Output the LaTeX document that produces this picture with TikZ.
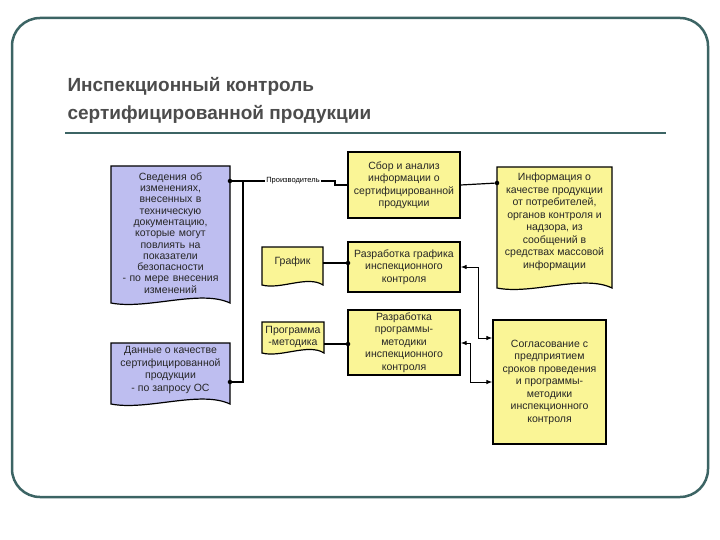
\documentclass[tikz,border=0pt]{standalone}
\usepackage{fontspec}
\setmainfont{Liberation Sans}
\usetikzlibrary{arrows.meta,calc}
\definecolor{frm}{RGB}{60,100,100}
\definecolor{yel}{RGB}{250,245,150}
\definecolor{blu}{RGB}{190,190,240}
\tikzset{
 box/.style={draw,line width=1.2pt,fill=yel,align=center,font=\fontsize{10.5}{12.5}\selectfont,inner sep=1pt,text=black!85},
 doctext/.style={align=center,font=\fontsize{10.5}{12.5}\selectfont,inner sep=1pt,text=black!85},
 con/.style={line width=1.2pt},
 dot/.style={circle,fill,inner sep=1.6pt},
 arr/.style={line width=1pt,-{Latex[length=6pt]}}
}
\newcommand{\wdoc}[6]{% x1 y1 x2 y2 fill amp
 \draw[line width=1.2pt,fill=#5] (#1,#2) -- (#3,#2) -- (#3,#4)
  .. controls ({#3-0.25*(#3-#1)},{#4-2*#6}) and ({#1+0.3*(#3-#1)},{#4+#6}) .. (#1,#4) -- cycle;}
\begin{document}
\begin{tikzpicture}[x=1pt,y=-1pt]
\useasboundingbox (0,0) rectangle (720,540);
\draw[frm,line width=2.5pt,rounded corners=28pt] (12,18) rectangle (708,497);
\node[anchor=west,font=\bfseries\fontsize{19}{28}\selectfont,text=black!70,align=left] (title) at (64,100) {Инспекционный контроль\\сертифицированной продукции};
\draw[frm,line width=2pt] (65,133) -- (666,133);
% documents
\wdoc{111}{166}{230}{303}{blu}{7}
\node[doctext,text width=118pt,font=\fontsize{10.5}{11.3}\selectfont] (d1) at (170.5,233) {Сведения об\\изменениях,\\внесенных в\\техническую\\документацию,\\которые могут\\повлиять на\\показатели\\безопасности\\- по мере внесения\\изменений};
\wdoc{111}{343}{230}{404}{blu}{7}
\node[doctext] (d2) at (170.5,370) {Данные о качестве\\сертифицированной\\продукции\\- по запросу ОС};
\wdoc{497}{167}{612}{288}{yel}{7}
\node[doctext] (d3) at (554.5,222) {Информация о\\качестве продукции\\от потребителей,\\органов контроля и\\надзора, из\\сообщений в\\средствах массовой\\информации};
\wdoc{262}{247}{323}{285}{yel}{5}
\node[doctext] (d4) at (292.5,262) {График};
\wdoc{262}{322}{324}{353}{yel}{5}
\node[doctext] (d5) at (293,337) {Программа\\-методика};
% boxes
\node[box,minimum width=112pt,minimum height=66pt] (b1) at (404,185) {Сбор и анализ\\информации о\\сертифицированной\\продукции};
\node[box,minimum width=112pt,minimum height=50pt] (b2) at (404,267) {Разработка графика\\инспекционного\\контроля};
\node[box,minimum width=112pt,minimum height=65pt] (b3) at (404,342.5) {Разработка\\программы-\\методики\\инспекционного\\контроля};
\node[box,minimum width=113pt,minimum height=124pt] (b4) at (549.5,382) {Согласование с\\предприятием\\сроков проведения\\и программы-\\методики\\инспекционного\\контроля};
% connectors
\coordinate (p1) at (230,181);
\coordinate (p2) at (230,382);
\node[dot] (dp1) at (p1) {};
\node[dot] (dp2) at (p2) {};
\node[font=\fontsize{7.5}{8}\selectfont,inner sep=1pt,fill=white] (prod) at (293,181) {Производитель};
\draw[con] (dp1) -- (243,181) -- (243,382) -- (dp2);
\draw[con] (243,181) -- (prod.west);
\draw[con] (prod.east) -- (335,181) -- (335,185) -- (b1.west);
\node[dot] (dd3) at (497,183) {};
\draw[con] (b1.east) -- (dd3);
\node[dot] (db2) at (348,263) {};
\node[dot] (db3) at (348,344) {};
\draw[con] (323,263) -- (db2);
\draw[con] (324,344) -- (db3);
\coordinate (a1) at (478,267);
\coordinate (a2) at (470,343);
\draw[arr] (a1) -- (b2.east |- a1);
\draw[arr] (a1) -- (478,338) -- (b4.west |- 0,338);
\draw[arr] (a2) -- (b3.east |- a2);
\draw[arr] (a2) -- (470,382) -- (b4.west |- 0,382);
\end{tikzpicture}
\end{document}
